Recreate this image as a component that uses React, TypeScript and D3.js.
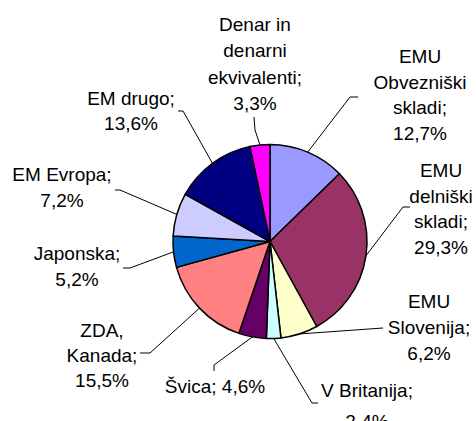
import React from "react";
import * as d3 from "d3";

const categories = [
  "EMU Obvezniški skladi",
  "EMU delniški skladi",
  "EMU Slovenija",
  "V Britanija",
  "Švica",
  "ZDA, Kanada",
  "Japonska",
  "EM Evropa",
  "EM drugo",
  "Denar in denarni ekvivalenti",
];
const values = [12.7, 29.3, 6.2, 2.4, 4.6, 15.5, 5.2, 7.2, 13.6, 3.3];
const colors = [
  "#9999FF", "#993366", "#FFFFCC", "#CCFFFF", "#660066",
  "#FF8080", "#0066CC", "#CCCCFF", "#000080", "#FF00FF",
];
// how each label's name is wrapped (the "; value%" part is appended to the last name line)
const nameLines = [
  ["EMU", "Obvezniški", "skladi;"],
  ["EMU", "delniški", "skladi;"],
  ["EMU", "Slovenija;"],
  ["V Britanija;"],
  ["Švica; "],
  ["ZDA,", "Kanada;"],
  ["Japonska;"],
  ["EM Evropa;"],
  ["EM drugo;"],
  ["Denar in", "denarni", "ekvivalenti;"],
];
// label layout: centre x, first baseline y, line spacing, leader path points (elbow, end)
const labelLayout = [
  { x: 420, y: 63, dy: 25.7, pts: [[350, 97], [358, 97]], inline: false },
  { x: 441, y: 177, dy: 25.5, pts: [[403, 207], [410, 207]], inline: false },
  { x: 429, y: 308, dy: 26, pts: [[383, 328]], inline: false },
  { x: 367, y: 397, dy: 31, pts: [[312, 403], [318, 403]], inline: false },
  { x: 215, y: 393, dy: 25, pts: [[214, 365], [214, 371]], inline: true },
  { x: 102, y: 337, dy: 25, pts: [[150, 353], [140, 353]], inline: false },
  { x: 77, y: 260, dy: 25.5, pts: [[130, 268], [123, 268]], inline: false },
  { x: 62, y: 181, dy: 26, pts: [[120, 190], [115, 190]], inline: false },
  { x: 131, y: 105, dy: 25, pts: [[183, 111], [178, 111]], inline: false },
  { x: 255, y: 31, dy: 26.4, pts: [[255, 130], [254, 117]], inline: false },
];

const W = 476;
const H = 421;
const CX = 270;
const CY = 241.5;
const R = 97;

export default function App() {
  const pie = d3.pie<number>().sort(null).value((d) => d);
  const arcs = pie(values);
  const arc = d3.arc<d3.PieArcDatum<number>>().innerRadius(0).outerRadius(R);
  const fmt = (v: number) => v.toFixed(1).replace(".", ",") + "%";

  return (
    <svg
      width={W}
      height={H}
      style={{ position: "absolute", left: 0, top: 0, background: "#fff" }}
      fontFamily="'Liberation Sans', Arial, sans-serif"
      fontSize={19}
    >
      <rect width={W} height={H} fill="#fff" />
      <g transform={`translate(${CX},${CY})`}>
        {arcs.map((a, i) => (
          <path key={i} d={arc(a) || ""} fill={colors[i]} stroke="#000" strokeWidth={1.5} strokeLinejoin="round" />
        ))}
      </g>
      {arcs.map((a, i) => {
        const mid = (a.startAngle + a.endAngle) / 2;
        const sx = CX + R * Math.sin(mid);
        const sy = CY - R * Math.cos(mid);
        const pts = [[sx, sy], ...labelLayout[i].pts];
        const line = d3.line()(pts as [number, number][]);
        return <path key={"l" + i} d={line || ""} fill="none" stroke="#000" strokeWidth={1} />;
      })}
      {categories.map((c, i) => {
        const lay = labelLayout[i];
        const lines = lay.inline
          ? [nameLines[i].join("") + fmt(values[i])]
          : [...nameLines[i], fmt(values[i])];
        return (
          <text key={"t" + i} textAnchor="middle" fill="#000">
            {lines.map((ln, j) => (
              <tspan key={j} x={lay.x} y={lay.y + j * lay.dy}>
                {ln}
              </tspan>
            ))}
          </text>
        );
      })}
    </svg>
  );
}
